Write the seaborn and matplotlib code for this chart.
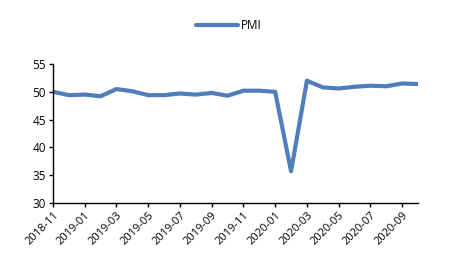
import pandas as pd
import matplotlib.pyplot as plt
import seaborn as sns

months = ['2018-11', '2018-12', '2019-01', '2019-02', '2019-03', '2019-04',
          '2019-05', '2019-06', '2019-07', '2019-08', '2019-09', '2019-10',
          '2019-11', '2019-12', '2020-01', '2020-02', '2020-03', '2020-04',
          '2020-05', '2020-06', '2020-07', '2020-08', '2020-09', '2020-10']
pmi = [50.0, 49.4, 49.5, 49.2, 50.5, 50.1, 49.4, 49.4, 49.7, 49.5, 49.8, 49.3,
       50.2, 50.2, 50.0, 35.7, 52.0, 50.8, 50.6, 50.9, 51.1, 51.0, 51.5, 51.4]

df = pd.DataFrame({'idx': range(len(months)), 'month': months, 'PMI': pmi})

sns.set_style('white')
plt.rcParams['font.family'] = ['Open Sans', 'DejaVu Sans']
plt.rcParams['text.color'] = 'black'
plt.rcParams['xtick.color'] = 'black'
plt.rcParams['ytick.color'] = 'black'

fig = plt.figure(figsize=(4.49, 2.68), dpi=100)
ax = fig.add_axes([0.118, 0.243, 0.813, 0.518])

sns.lineplot(data=df, x='idx', y='PMI', color='#4F7EBB', linewidth=3.0,
             label='PMI', ax=ax)

ax.set_xlim(0, len(months) - 1)
ax.set_ylim(30, 55)
ax.set_yticks([30, 35, 40, 45, 50, 55])
ax.set_xticks(df['idx'][::2])
ax.set_xticklabels(df['month'][::2], rotation=45, ha='right',
                   rotation_mode='anchor', fontsize=8)
ax.tick_params(axis='y', labelsize=8.5)
ax.tick_params(axis='both', direction='out', length=3, width=1,
               bottom=True, left=True, pad=2)
ax.set_xlabel('')
ax.set_ylabel('')

sns.despine(ax=ax)
for s in ['left', 'bottom']:
    ax.spines[s].set_color('black')
    ax.spines[s].set_linewidth(1)

ax.legend(loc='center', bbox_to_anchor=(0.51, 0.905), bbox_transform=fig.transFigure,
          frameon=False, fontsize=8.5, handlelength=3.5, handletextpad=0.3)

fig.savefig('out.png', dpi=100)
